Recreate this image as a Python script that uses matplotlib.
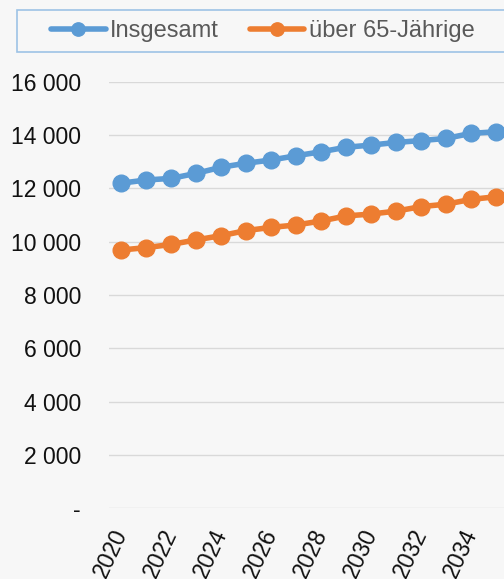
import numpy as np
import matplotlib.pyplot as plt
from matplotlib.patches import Rectangle
from matplotlib.ticker import FuncFormatter, MultipleLocator

plt.rcParams['font.family'] = ['Liberation Sans', 'DejaVu Sans']

# Daten
jahre = np.arange(2020, 2036)
insgesamt = [12200, 12320, 12380, 12570, 12800, 12950, 13070, 13230,
             13380, 13550, 13630, 13730, 13800, 13880, 14070, 14130]
ueber_65 = [9690, 9780, 9900, 10070, 10230, 10420, 10540, 10630,
            10780, 10970, 11040, 11150, 11320, 11410, 11590, 11690]
serien = ['Insgesamt', 'über 65-Jährige']
farben = ['#5B9BD5', '#ED7D31']
bg = '#f7f7f7'

fig = plt.figure(figsize=(5.04, 5.79), dpi=100, facecolor=bg)
ax = fig.add_axes([0.216, 0.1226, 0.784, 0.7358], facecolor=bg)

for werte, name, farbe in zip([insgesamt, ueber_65], serien, farben):
    ax.plot(jahre, werte, color=farbe, lw=4, marker='o', markersize=12,
            label=name, solid_capstyle='round', clip_on=False)

ax.set_xlim(2019.5, 2035.32)
ax.set_ylim(0, 16000)
ax.yaxis.set_major_locator(MultipleLocator(2000))
ax.yaxis.set_major_formatter(FuncFormatter(
    lambda v, p: '-' if v == 0 else f'{int(v):,}'.replace(',', ' ')))
ax.set_xticks(jahre[::2])
ax.set_xticklabels([str(j) for j in jahre[::2]], rotation=65,
                   ha='right', va='center', rotation_mode='anchor')
ax.tick_params(axis='both', length=0, labelsize=16.5, labelcolor='#111111')
ax.tick_params(axis='x', pad=16)
ax.tick_params(axis='y', pad=20)
ax.grid(axis='y', color='#d9d9d9', lw=1)
ax.set_axisbelow(True)
for s in ax.spines.values():
    s.set_visible(False)

# Legende mit Rahmen
fig.patches.append(Rectangle((17 / 504, 1 - 52 / 579), 500 / 504, 42 / 579,
                             transform=fig.transFigure, facecolor=bg,
                             edgecolor='#9dc3e6', lw=1.2))
h, l = ax.get_legend_handles_labels()
fig.legend(h, l, loc='center left', bbox_to_anchor=(30 / 504, 1 - 31 / 579),
           ncol=2, frameon=False, fontsize=17, handlelength=2.3,
           columnspacing=1.3, handletextpad=0.2, labelcolor='#595959',
           markerscale=0.8)

fig.savefig('out.png', dpi=100, facecolor=bg)
